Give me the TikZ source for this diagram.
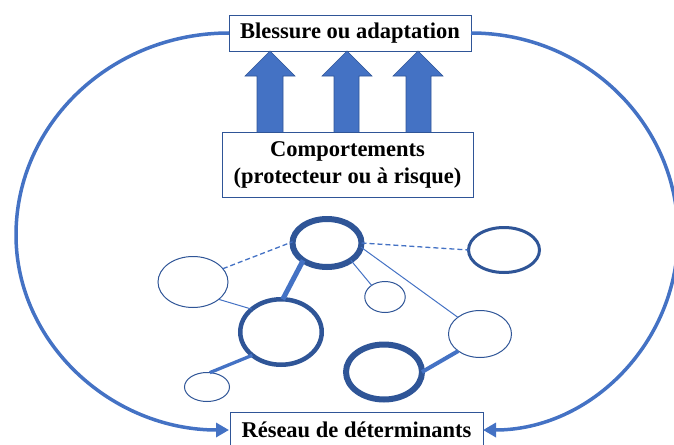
\documentclass[tikz,border=0pt]{standalone}
\usepackage{fontspec}
\setmainfont{Liberation Serif}
\usetikzlibrary{shapes.geometric,arrows.meta}
\definecolor{dk}{HTML}{2F5597}
\definecolor{md}{HTML}{4472C4}
\begin{document}
\begin{tikzpicture}[x=1pt,y=1pt,
  lbl/.style={draw=dk,line width=0.9pt,fill=white,font=\fontsize{22.5}{27}\selectfont\bfseries,align=center,inner sep=0pt,outer sep=0pt},
  el/.style={ellipse,draw=dk,fill=white,inner sep=0pt,outer sep=0pt},
  link/.style={draw=md},
  dlink/.style={draw=md,line width=1.3pt,dash pattern=on 5pt off 3pt},
  loopline/.style={md,line width=3.5pt,-{Triangle[length=13pt,width=14pt]}},
  blk/.style={fill=md,draw=dk,line width=0.6pt}]
\useasboundingbox (0,0) rectangle (674,-444);

% boxes
\node[lbl,minimum width=242,minimum height=36] (top) at (350,-33) {Blessure ou adaptation};
\node[lbl,minimum width=253,minimum height=36] (bot) at (356.5,-430) {Réseau de déterminants};

% big loop
\draw[loopline] (top.west) arc[start angle=90,end angle=180,x radius=213,y radius=202]
  arc[start angle=180,end angle=270,x radius=213,y radius=195];
\draw[loopline] (top.east) arc[start angle=90,end angle=0,x radius=207,y radius=202]
  arc[start angle=0,end angle=-90,x radius=195,y radius=195];

% block arrows
\filldraw[blk] (257,-133) -- (257,-76) -- (245,-76) -- (270,-51) -- (295,-76) -- (283,-76) -- (283,-133) -- cycle;
\filldraw[blk] (334,-133) -- (334,-76) -- (322,-76) -- (347,-51) -- (372,-76) -- (359,-76) -- (359,-133) -- cycle;
\filldraw[blk] (406,-133) -- (406,-76) -- (393,-76) -- (418,-51) -- (443,-76) -- (431,-76) -- (431,-133) -- cycle;

\node[lbl,minimum width=251,minimum height=65] (comp) at (347.5,-164.5) {Comportements\\(protecteur ou à risque)};

% network links first
\coordinate (dummy) at (0,0);
% ellipses
\node[el,line width=6pt,minimum width=69,minimum height=48] (n1) at (327,-243) {};
\node[el,line width=3pt,minimum width=71,minimum height=45] (n2) at (504,-250) {};
\node[el,line width=1pt,minimum width=70,minimum height=51] (n3) at (193,-282) {};
\node[el,line width=4.5pt,minimum width=81.5,minimum height=65.5] (n4) at (281,-332) {};
\node[el,line width=1pt,minimum width=40.5,minimum height=31] (n5) at (385,-297) {};
\node[el,line width=1pt,minimum width=63,minimum height=47] (n6) at (480,-334) {};
\node[el,line width=6pt,minimum width=76,minimum height=55] (n7) at (384,-372) {};
\node[el,line width=1pt,minimum width=45,minimum height=29] (n8) at (207,-387) {};

% links
\draw[dlink] (n3.24) -- (n1.178);
\draw[dlink] (n1.0) -- (n2.180);
\draw[link,line width=5pt] (n1.216) -- (n4.87);
\draw[link,line width=1pt] (n3.-34) -- (n4.142);
\draw[link,line width=1pt] (n1.-36) -- (n5.139);
\draw[link,line width=1pt] (n1.-7) -- (n6.143);
\draw[link,line width=3.3pt] (n4.219) -- (n8.79);
\draw[link,line width=4pt] (n6.218) -- (n7.0);
\end{tikzpicture}
\end{document}
